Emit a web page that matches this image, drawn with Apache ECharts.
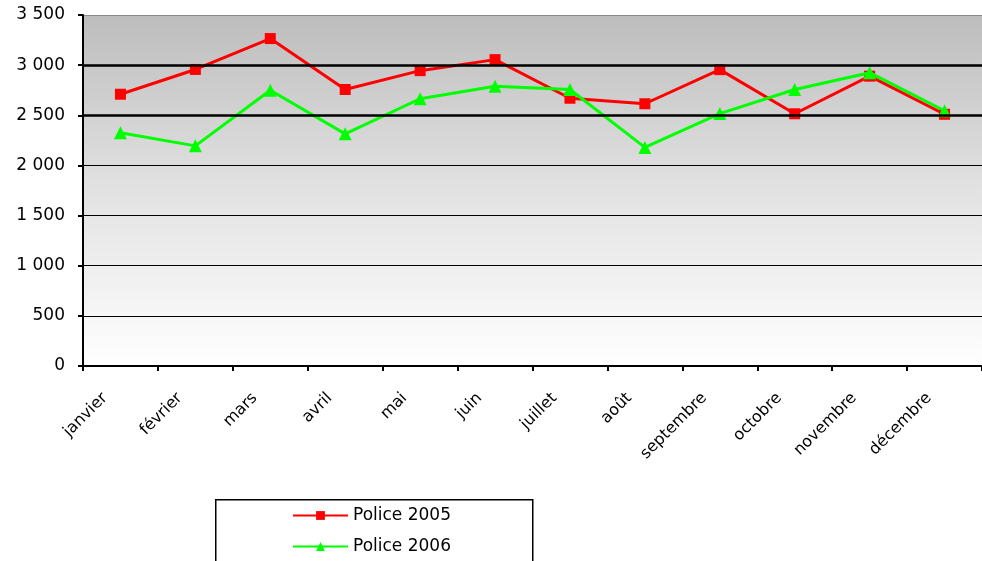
<!DOCTYPE html>
<html lang="fr">
<head>
    <meta charset="UTF-8">
    <title>police-2005-2006</title>
    <script src="https://cdn.jsdelivr.net/npm/echarts@6/dist/echarts.min.js"></script>
    <style>
        html, body {
            margin: 0;
            padding: 0;
            background: #fff;
        }
        #main {
            width: 982px;
            height: 561px;
        }
    </style>
</head>
<body>
<div id="main"></div>
<script>
    // mois
    const months = ['janvier', 'février', 'mars', 'avril', 'mai', 'juin',
        'juillet', 'août', 'septembre', 'octobre', 'novembre', 'décembre'];
    // valeurs
    const police2005 = [2710, 2957, 3265, 2757, 2945, 3055, 2670, 2615, 2955, 2515, 2890, 2510];
    const police2006 = [2325, 2195, 2750, 2315, 2665, 2790, 2757, 2180, 2517, 2757, 2925, 2545];
    // graduations de l'axe vertical
    const yTicks = [0, 500, 1000, 1500, 2000, 2500, 3000, 3500];
    // lignes plus épaisses
    const boldLines = [2500, 3000];

    // police large, proche du rendu bitmap d'origine
    const font = 'DejaVu Sans, Verdana, sans-serif';

    // 3500 -> "3 500"
    function fmt(v) {
        return String(v).replace(/\B(?=(\d{3})+(?!\d))/g, ' ');
    }

    let myChart = echarts.init(document.getElementById('main'), null, {renderer: 'canvas'});

    let option = {
        animation: false,
        textStyle: {fontFamily: font},
        grid: {
            left: 83,
            top: 15,
            right: -11,
            bottom: 195,
            show: true,
            borderWidth: 0,
            backgroundColor: new echarts.graphic.LinearGradient(0, 0, 0, 1, [
                {offset: 0, color: '#bdbdbd'},
                {offset: 0.5, color: '#e2e2e2'},
                {offset: 1, color: '#ffffff'}
            ])
        },
        legend: {
            orient: 'vertical',
            left: 287,
            top: 502,
            itemWidth: 55,
            itemHeight: 11,
            itemGap: 14,
            textStyle: {fontSize: 17, color: '#000', fontFamily: font},
            data: ['Police 2005', 'Police 2006']
        },
        graphic: [{
            type: 'rect',
            left: 215,
            top: 499,
            shape: {width: 317, height: 80},
            style: {fill: '#fff', stroke: '#000', lineWidth: 1.5},
            z: -1
        }],
        xAxis: {
            type: 'category',
            data: months,
            boundaryGap: true,
            axisLine: {lineStyle: {color: '#000', width: 2}},
            axisTick: {show: true, length: 5, lineStyle: {color: '#000', width: 2}},
            axisLabel: {
                rotate: 45,
                interval: 0,
                margin: 14,
                fontSize: 16,
                color: '#000',
                padding: [0, 22, 16, 0]
            },
            splitLine: {show: false}
        },
        yAxis: {
            type: 'value',
            min: yTicks[0],
            max: yTicks[yTicks.length - 1],
            interval: 500,
            axisLine: {show: true, lineStyle: {color: '#000', width: 2}},
            axisTick: {show: true, length: 5, lineStyle: {color: '#000', width: 2}},
            axisLabel: {
                margin: 18,
                fontSize: 17,
                color: '#000',
                formatter: fmt
            },
            splitLine: {
                show: true,
                lineStyle: {
                    color: ['#000', '#000', '#000', '#000', '#000', '#000', '#000', '#8a8a8a'],
                    width: 1.2
                }
            }
        },
        series: [
            {
                name: 'Police 2005',
                type: 'line',
                data: police2005,
                symbol: 'rect',
                symbolSize: 11,
                lineStyle: {color: '#ff0000', width: 3},
                itemStyle: {color: '#ff0000'},
                z: 3,
                markLine: {
                    silent: true,
                    symbol: 'none',
                    label: {show: false},
                    lineStyle: {color: '#000', width: 2.5, type: 'solid'},
                    data: boldLines.map(v => ({yAxis: v}))
                }
            },
            {
                name: 'Police 2006',
                type: 'line',
                data: police2006,
                symbol: 'triangle',
                symbolSize: 13,
                lineStyle: {color: '#00ff00', width: 3},
                itemStyle: {color: '#00ff00'},
                z: 4
            }
        ]
    };

    myChart.setOption(option);
</script>
</body>
</html>
